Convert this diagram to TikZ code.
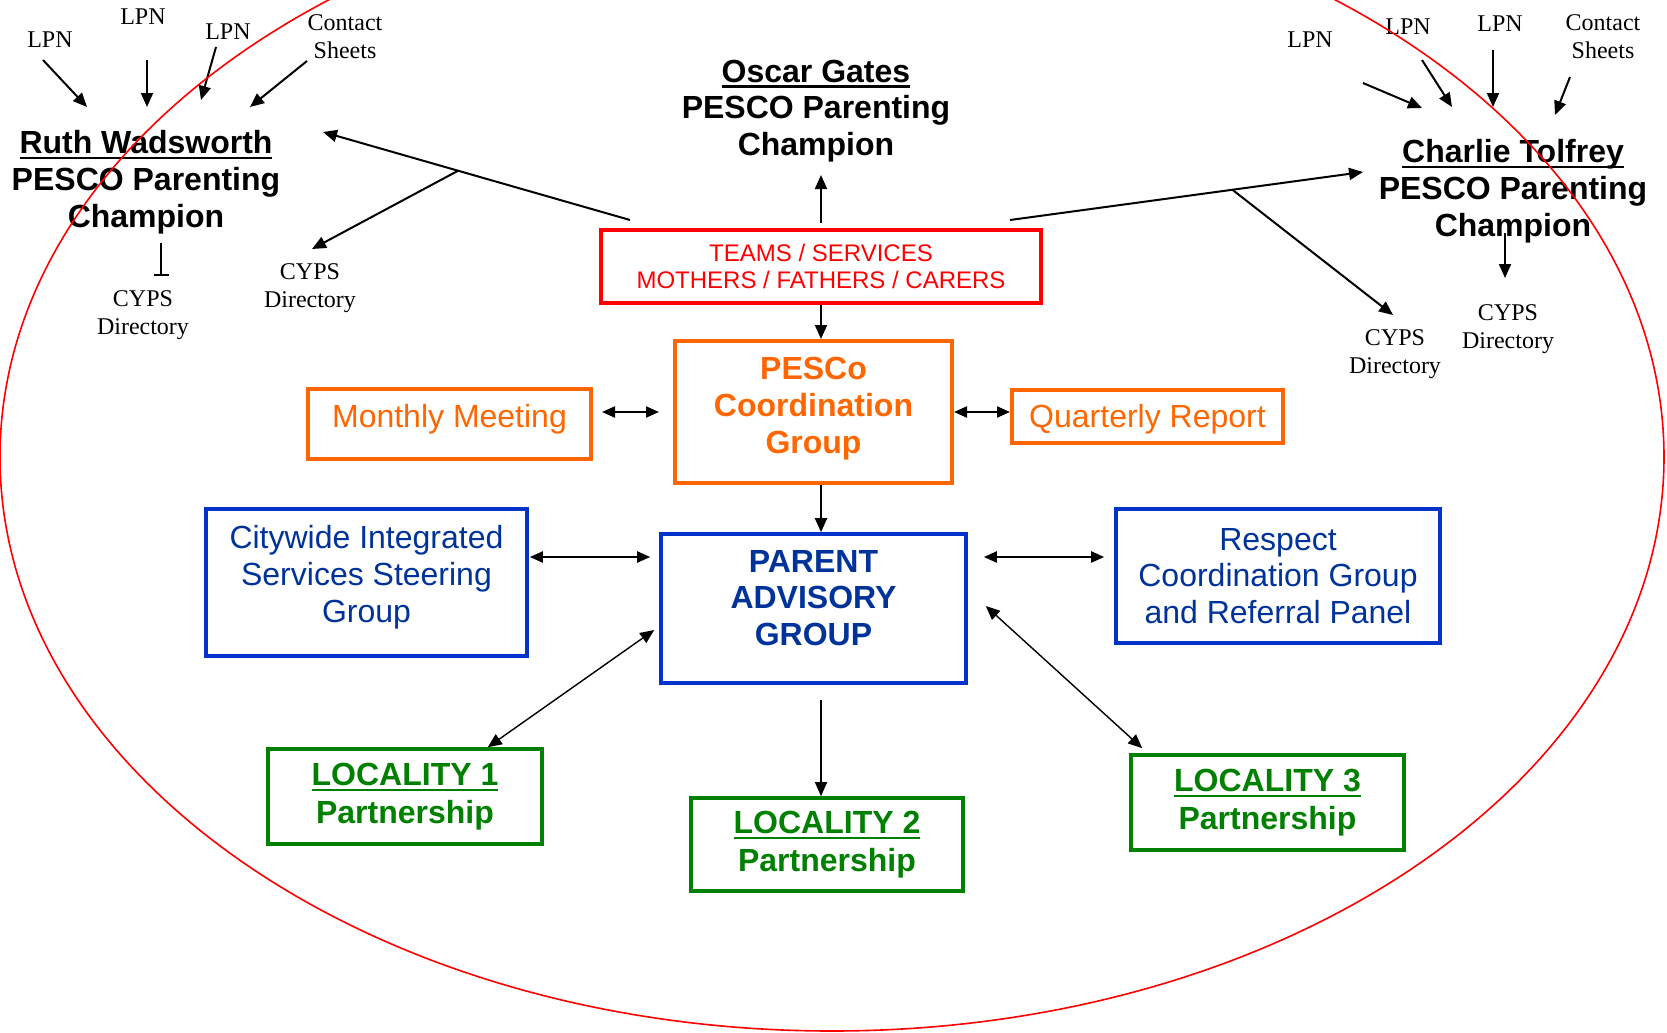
\documentclass[tikz,border=0pt]{standalone}
\usepackage{fontspec}
\setmainfont{Liberation Serif}
\setsansfont{Liberation Sans}
\usetikzlibrary{arrows.meta, positioning, calc}
\definecolor{pescred}{HTML}{FF0000}
\definecolor{pescorange}{HTML}{FF6600}
\definecolor{pescblue}{HTML}{0033CC}
\definecolor{pescnavy}{HTML}{003399}
\definecolor{pescgreen}{HTML}{008000}
\newcommand{\uname}[1]{\setbox0\hbox{#1}\rlap{\rule[-3pt]{\wd0}{1.4pt}}\box0}

\begin{document}
\begin{tikzpicture}[
  x=0.5pt, y=-0.5pt,
  champ/.style={font=\sffamily\bfseries\fontsize{16}{18.4}\selectfont,
    align=center, inner sep=0pt},
  lbl/.style={font=\fontsize{12}{14}\selectfont, align=center, inner sep=0pt},
  box/.style={line width=2pt, align=center, inner sep=0pt,
    font=\sffamily\fontsize{16}{18.4}\selectfont},
  redbox/.style={box, draw=pescred, text=pescred,
    font=\sffamily\fontsize{12}{13.5}\selectfont},
  orangebox/.style={box, draw=pescorange, text=pescorange},
  bluebox/.style={box, draw=pescblue, text=pescnavy, line width=1.8pt},
  greenbox/.style={box, draw=pescgreen, text=pescgreen, line width=1.8pt,
    font=\sffamily\bfseries\fontsize{16}{19}\selectfont},
  arr/.style={-{Triangle[length=7pt, width=6pt]}, line width=1pt},
  dbl/.style={{Triangle[length=6.5pt, width=5.5pt]}-{Triangle[length=6.5pt, width=5.5pt]},
    line width=1pt},
  link/.style={{Triangle[length=7pt, width=6pt]}-{Triangle[length=7pt, width=6pt]},
    line width=0.7pt},
]
  \useasboundingbox (0,0) rectangle (1667,1033);

  \node[champ] (oscar)   at (816,111)  {\uname{Oscar Gates}\\PESCO Parenting\\Champion};
  \node[champ] (ruth)    at (146,182)  {\uname{Ruth Wadsworth}\\PESCO Parenting\\Champion};
  \node[champ] (charlie) at (1513,191) {\uname{Charlie Tolfrey}\\PESCO Parenting\\Champion};

  \node[lbl] (lpnA)  at (50,39.5)  {LPN};
  \node[lbl] (lpnB)  at (143,16.5) {LPN};
  \node[lbl] (lpnC)  at (228,31.5) {LPN};
  \node[lbl] (contA) at (345,37)   {Contact\\Sheets};
  \node[lbl] (cypsA) at (143,315)  {CYPS\\Directory};
  \node[lbl] (cypsB) at (310,288)  {CYPS\\Directory};
  \node[lbl] (lpnD)  at (1310,39.5) {LPN};
  \node[lbl] (lpnE)  at (1408,27)  {LPN};
  \node[lbl] (lpnF)  at (1500,23.5) {LPN};
  \node[lbl] (contB) at (1603,37)  {Contact\\Sheets};
  \node[lbl] (cypsC) at (1508,329) {CYPS\\Directory};
  \node[lbl] (cypsD) at (1395,354) {CYPS\\Directory};

  \node[redbox, minimum width=220pt, minimum height=36.5pt] (teams) at (821,266.5)
    {TEAMS / SERVICES\\MOTHERS / FATHERS / CARERS};
  \node[orangebox, font=\sffamily\bfseries\fontsize{16}{18.4}\selectfont,
    minimum width=138.5pt, minimum height=71pt] (pesco) at (813.5,412)
    {PESCo\\Coordination\\Group\\[-12pt]\mbox{}};
  \node[orangebox, minimum width=141.5pt, minimum height=35pt] (monthly) at (449.5,424)
    {Monthly Meeting\\[-10.7pt]\mbox{}};
  \node[orangebox, text height=14.7pt, minimum width=135.5pt, minimum height=26.5pt]
    (quarterly) at (1147.5,416.5) {Quarterly Report};
  \node[bluebox, minimum width=160.5pt, minimum height=73.5pt] (citywide) at (366.5,582.5)
    {Citywide Integrated\\Services Steering\\Group\\[-9.7pt]\mbox{}};
  \node[bluebox, font=\sffamily\bfseries\fontsize{16}{18.4}\selectfont,
    minimum width=152.5pt, minimum height=74.5pt] (pag) at (813.5,608.5)
    {PARENT\\ADVISORY\\GROUP\\[-7.8pt]\mbox{}};
  \node[bluebox, minimum width=162pt, minimum height=67pt] (respect) at (1278,576)
    {Respect\\Coordination Group\\and Referral Panel};
  \node[greenbox, minimum width=137pt, minimum height=47.5pt] (loc1) at (405,796.5)
    {\uname{LOCALITY 1}\\Partnership};
  \node[greenbox, minimum width=136pt, minimum height=46.5pt] (loc2) at (827,844.5)
    {\uname{LOCALITY 2}\\Partnership};
  \node[greenbox, minimum width=136.5pt, minimum height=47.5pt] (loc3) at (1267.5,802.5)
    {\uname{LOCALITY 3}\\Partnership};

  \draw[arr] ([shift={(-7,20.5)}]lpnA.center)  -- ([shift={(-59,-75)}]ruth.center);
  \draw[arr] ([shift={(4,43.5)}]lpnB.center)   -- ([shift={(1,-75)}]ruth.center);
  \draw[arr] ([shift={(-12,15.5)}]lpnC.center) -- ([shift={(55,-82)}]ruth.center);
  \draw[arr] ([shift={(-38,24)}]contA.center) -- ([shift={(104,-75)}]ruth.center);
  \draw[-{Bar[width=7.5pt]}, line width=0.8pt] ([shift={(15,61)}]ruth.center)
    -- ([shift={(18,-39)}]cypsA.center);
  \draw[arr] ([shift={(31,-8)}]teams.north west) -- coordinate[pos=0.56] (rb)
    ([shift={(177,-50)}]ruth.center);
  \draw[arr] (rb) -- ([shift={(2,-39)}]cypsB.center);

  \draw[arr] ([shift={(0,-5)}]teams.north) -- ([shift={(5,64)}]oscar.center);

  \draw[arr] ([shift={(53,43.5)}]lpnD.center)  -- ([shift={(-91,-83)}]charlie.center);
  \draw[arr] ([shift={(14,33)}]lpnE.center)  -- ([shift={(-61,-84)}]charlie.center);
  \draw[arr] ([shift={(-7,26.5)}]lpnF.center)  -- ([shift={(-20,-84)}]charlie.center);
  \draw[arr] ([shift={(-33,40)}]contB.center) -- ([shift={(42,-76)}]charlie.center);
  \draw[arr] ([shift={(-8,42)}]charlie.center) -- ([shift={(-3,-51)}]cypsC.center);
  \draw[arr] ([shift={(-33,-8)}]teams.north east) -- coordinate[pos=0.63] (cb)
    ([shift={(-150,-19)}]charlie.center);
  \draw[arr] (cb) -- ([shift={(-2,-39)}]cypsD.center);

  \draw[arr] (teams.south) -- (teams.south |- pesco.north);
  \draw[arr] (teams.south |- pesco.south) -- (teams.south |- pag.north);
  \draw[dbl] ([shift={(9,-12)}]monthly.east) -- ([shift={(-14,0)}]pesco.west);
  \draw[dbl] (pesco.east) -- (pesco.east -| quarterly.west);
  \draw[dbl] ([shift={(1,-25.5)}]citywide.east) -- ([shift={(-9,-51.5)}]pag.west);
  \draw[dbl] ([shift={(16,-51.5)}]pag.east) -- ([shift={(-10,-19)}]respect.west);
  \draw[link] ([shift={(-5,21.5)}]pag.west) -- ([shift={(-56,0)}]loc1.north east);
  \draw[arr, line width=0.7pt] ([shift={(7.5,15)}]pag.south) -- (teams.south |- loc2.north);
  \draw[link] ([shift={(18,-2.5)}]pag.east) -- ([shift={(13,-5)}]loc3.north west);

  \draw[pescred, line width=0.8pt] (832,457) ellipse [x radius=832, y radius=574];
\end{tikzpicture}
\end{document}
